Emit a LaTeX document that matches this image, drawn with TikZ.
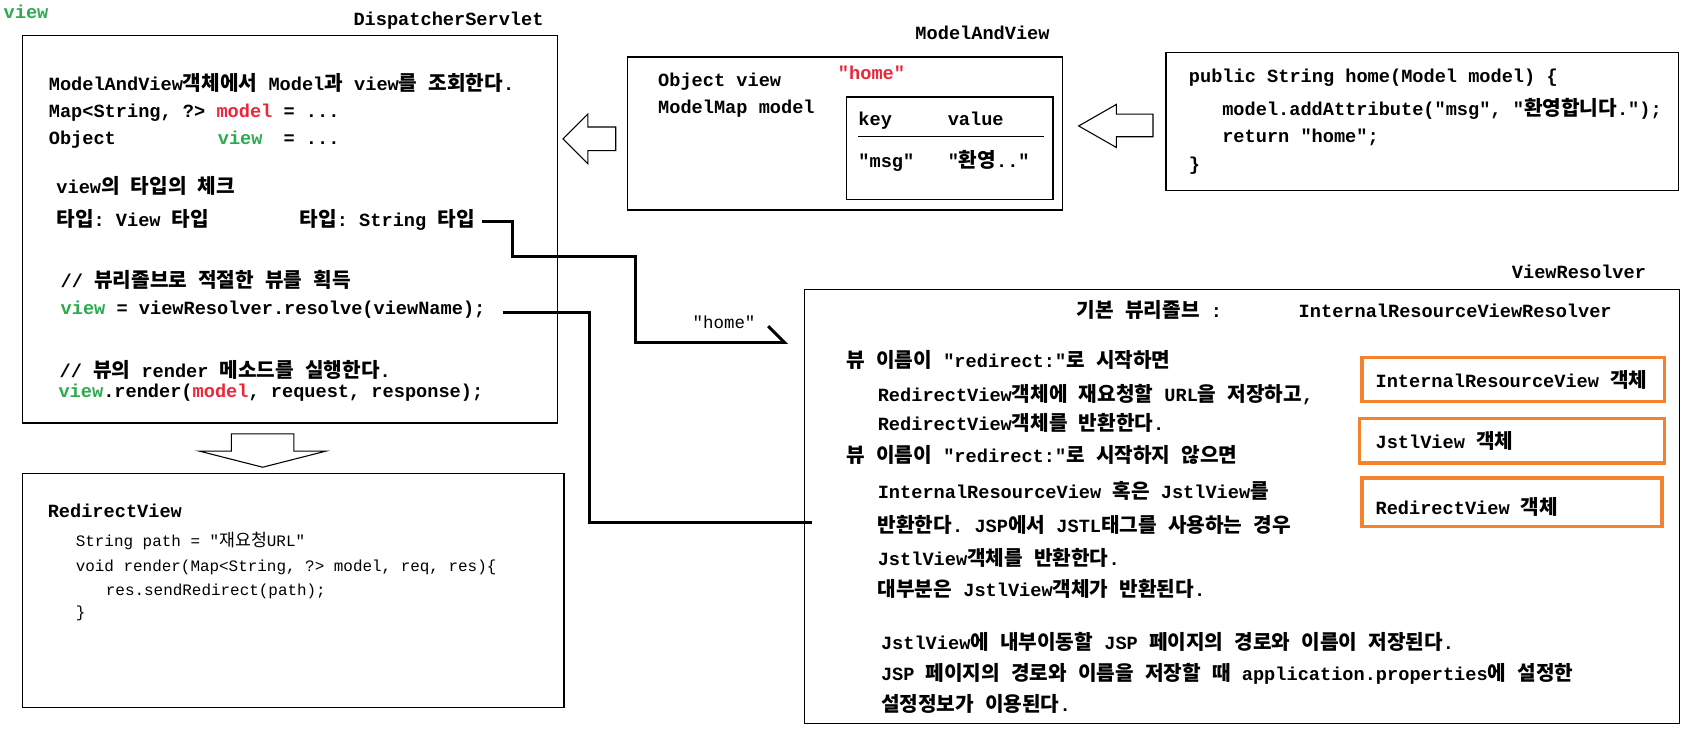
\documentclass[tikz,border=0pt]{standalone}
\usepackage{fontspec}
\usepackage{xcolor}
\usepackage{tikz}
\usetikzlibrary{positioning,fit,arrows.meta}
\setmonofont{Liberation Mono}
\newfontfamily\krfont{Noto Sans CJK KR}[Scale=1.085]
\definecolor{viewgreen}{RGB}{44,170,78}
\definecolor{modelred}{RGB}{236,38,56}
\definecolor{pickorange}{RGB}{245,130,45}
% Hangul syllables switch to the Korean font
\XeTeXinterchartokenstate=1
\chardef\hangulclass=10
\count255="AC00
\loop
	\XeTeXcharclass\count255=\hangulclass
	\ifnum\count255<"D7A3
	\advance\count255 by 1
\repeat
\XeTeXinterchartoks 0 \hangulclass = {\begingroup\krfont}
\XeTeXinterchartoks 4095 \hangulclass = {\begingroup\krfont}
\XeTeXinterchartoks \hangulclass 0 = {\endgroup}
\XeTeXinterchartoks \hangulclass 4095 = {\endgroup}
\tikzset{
	plainbox/.style={draw, line width=0.6pt, inner sep=0pt},
	txt/.style={anchor=base west, inner sep=0pt, font={\ttfamily\bfseries\fontsize{8.65pt}{10pt}\selectfont}},
	lighttxt/.style={anchor=base west, inner sep=0pt, font={\ttfamily\fontsize{7.4pt}{9pt}\selectfont}},
	hometxt/.style={anchor=base west, inner sep=0pt, font={\ttfamily\fontsize{8.1pt}{10pt}\selectfont}},
	pick/.style={draw=pickorange, line width=1.6pt, inner sep=0pt},
	wire/.style={line width=1.4pt},
	hollow/.style={draw, line width=0.5pt, fill=white}
}

\begin{document}
\begin{tikzpicture}[x=0.5pt, y=-0.5pt]
	\useasboundingbox (0,0) rectangle (1568,678);

	% DispatcherServlet
	\node[txt, text=viewgreen] (viewlbl) at (3,17) {view};
	\node[txt] (dslbl) at (328,24) {DispatcherServlet};
	\node[plainbox, fit={(21,33) (518,393)}] (ds) {};
	\node[txt] (ds1) at (45,84) {ModelAndView객체에서 Model과 view를 조회한다.};
	\node[txt] (ds2) at (45,109) {Map<String, ?> \textcolor{modelred}{model} = ...};
	\node[txt] (ds3) at (45,134) {Object};
	\node[txt, text=viewgreen] (ds3v) at (202,134) {view};
	\node[txt] (ds3e) at (263,134) {= ...};
	\node[txt] (ds4) at (52,180) {view의 타입의 체크};
	\node[txt] (viewtype) at (52,210) {타입: View 타입};
	\node[txt] (strtype) at (278,210) {타입: String 타입};
	\node[txt] (ds6) at (56,267) {// 뷰리졸브로 적절한 뷰를 획득};
	\node[txt] (resolve) at (56,292) {\textcolor{viewgreen}{view} = viewResolver.resolve(viewName);};
	\node[txt] (ds8) at (55,351) {// 뷰의 render 메소드를 실행한다.};
	\node[txt] (render) at (54,369) {\textcolor{viewgreen}{view}.render(\textcolor{modelred}{model}, request, response);};

	% ModelAndView
	\node[txt] (mavlbl) at (850,37) {ModelAndView};
	\node[plainbox, fit={(583,53) (987,195)}] (mav) {};
	\node[txt] (objview) at (611,80) {Object view};
	\node[txt, text=modelred] (homeval) at (778,74) {"home"};
	\node[txt] (modelmap) at (611,105) {ModelMap model};
	\node[plainbox, fit={(786,90) (978,185)}] (map) {};
	\node[txt] (keyhd) at (797,117) {key};
	\node[txt] (valhd) at (880,117) {value};
	\draw[line width=0.6pt] (797,127) -- (970,127);
	\node[txt] (keymsg) at (797,156) {"msg"};
	\node[txt] (valmsg) at (880,156) {"환영.."};

	% controller
	\node[plainbox, fit={(1083,49) (1559,177)}] (ctrl) {};
	\node[txt] (c1) at (1104,77) {public String home(Model model) \{};
	\node[txt] (c2) at (1135,107) {model.addAttribute("msg", "환영합니다.");};
	\node[txt] (c3) at (1135,132) {return "home";};
	\node[txt] (c4) at (1104,158) {\}};

	% block arrows
	\draw[hollow] (523,129) -- (546,106) -- (546,118) -- (572,118) -- (572,140) -- (546,140) -- (546,152) -- cycle;
	\draw[hollow] (1002,117) -- (1037,97) -- (1037,106) -- (1071,106) -- (1071,127) -- (1037,127) -- (1037,137) -- cycle;
	\draw[hollow] (244,434) -- (185,419) -- (215,419) -- (215,403) -- (273,403) -- (273,419) -- (303,419) -- cycle;

	% ViewResolver
	\node[txt] (vrlbl) at (1404,259) {ViewResolver};
	\node[plainbox, fit={(747,269) (1560,672)}] (vr) {};
	\node[txt] (vrdef) at (1000,295) {기본 뷰리졸브 :};
	\node[txt] (vrname) at (1206,295) {InternalResourceViewResolver};
	\node[txt] (r1) at (786,341) {뷰 이름이 "redirect:"로 시작하면};
	\node[txt] (r2) at (815,373) {RedirectView객체에 재요청할 URL을 저장하고,};
	\node[txt] (r3) at (815,400) {RedirectView객체를 반환한다.};
	\node[txt] (r4) at (786,430) {뷰 이름이 "redirect:"로 시작하지 않으면};
	\node[txt] (r5) at (815,463) {InternalResourceView 혹은 JstlView를};
	\node[txt] (r6) at (815,495) {반환한다. JSP에서 JSTL태그를 사용하는 경우};
	\node[txt] (r7) at (815,525) {JstlView객체를 반환한다.};
	\node[txt] (r8) at (815,554) {대부분은 JstlView객체가 반환된다.};
	\node[txt] (r9) at (818,603) {JstlView에 내부이동할 JSP 페이지의 경로와 이름이 저장된다.};
	\node[txt] (r10) at (818,632) {JSP 페이지의 경로와 이름을 저장할 때 application.properties에 설정한};
	\node[txt] (r11) at (818,661) {설정정보가 이용된다.};

	\node[pick, fit={(1265,332) (1546,373)}] (irv) {};
	\node[txt, anchor=west] (irvtxt) at ([xshift=7pt]irv.west) {InternalResourceView 객체};
	\node[pick, fit={(1263,389) (1546,430)}] (jstl) {};
	\node[txt, anchor=west] (jstltxt) at ([xshift=8pt]jstl.west) {JstlView 객체};
	\node[pick, fit={(1265,444) (1544,489)}] (redir) {};
	\node[txt, anchor=west] (redirtxt) at ([xshift=7pt, yshift=-2pt]redir.west) {RedirectView 객체};

	% RedirectView
	\node[plainbox, fit={(21,440) (524,657)}] (rv) {};
	\node[txt] (rvlbl) at (44,481) {RedirectView};
	\node[lighttxt] (rv1) at (70,508) {String path = "재요청URL"};
	\node[lighttxt] (rv2) at (70,531) {void render(Map<String, ?> model, req, res)\{};
	\node[lighttxt] (rv3) at (98,553) {res.sendRedirect(path);};
	\node[lighttxt] (rv4) at (70,574) {\}};

	% connectors
	\coordinate (homeend) at (732,318);
	\coordinate (rvend) at (754,485);
	\draw[wire, -{Straight Barb[left, length=7.5pt, width=15pt]}] ([xshift=3pt, yshift=-0.75pt]strtype.east) -| (476,238) -- (590,238) |- (homeend);
	\node[hometxt] (homelbl) at (643,305) {"home"};
	\draw[wire] ([xshift=8pt, yshift=-1.5pt]resolve.east) -| (548,485) -- (rvend);
\end{tikzpicture}
\end{document}
